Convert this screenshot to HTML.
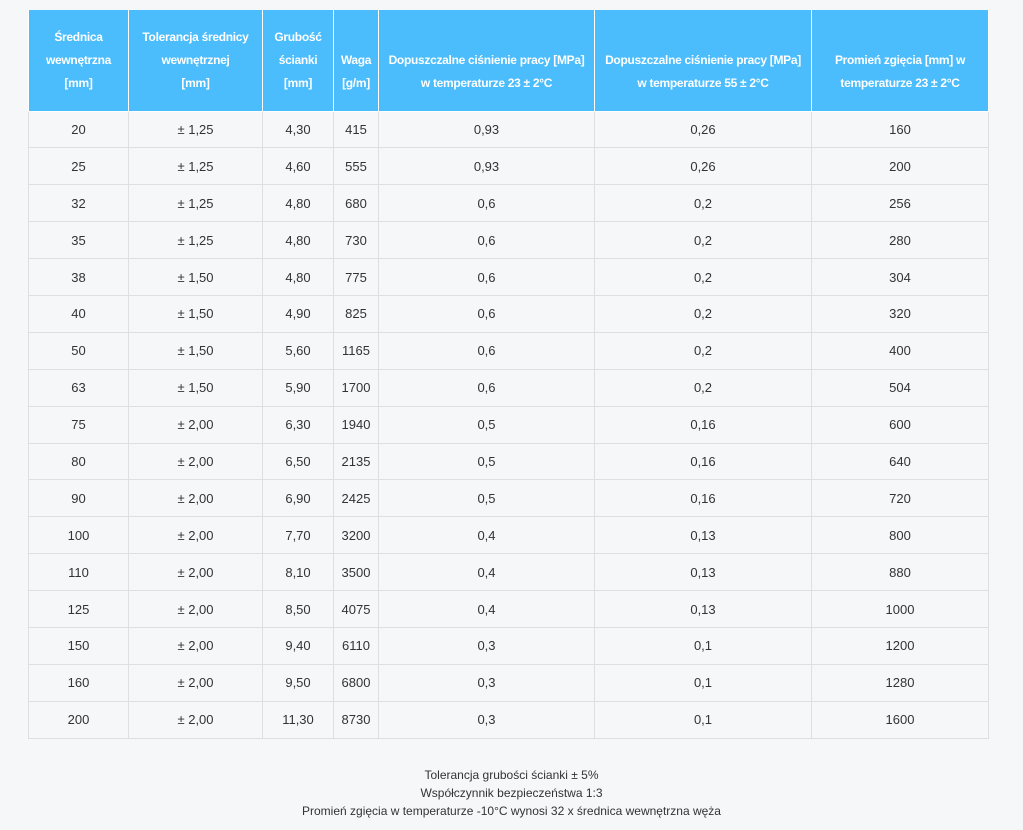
<!DOCTYPE html>
<html><head><meta charset="utf-8"><style>
html,body{margin:0;padding:0;background:#f6f7f9;width:1023px;height:830px;overflow:hidden;font-family:"Liberation Sans",sans-serif;}
table{position:absolute;left:28px;top:10px;border-collapse:collapse;table-layout:fixed;width:960px;}
th{background:#4bbcfc;color:#fff;font-size:12px;letter-spacing:-0.3px;font-weight:bold;line-height:23px;height:101px;padding:0 0 16px 0;border:1px solid #fff;border-top:none;text-align:center;vertical-align:bottom;box-sizing:border-box;white-space:nowrap;overflow:hidden;}
td{height:36.9px;box-sizing:border-box;border:1px solid #dcdfe3;text-align:center;font-size:13px;color:#333;padding:0;}
.notes{position:absolute;top:766px;left:0;width:1023px;text-align:center;font-size:12px;line-height:18px;color:#333;}
</style></head><body>
<table>
<colgroup><col style="width:100px"><col style="width:134px"><col style="width:71px"><col style="width:45px"><col style="width:216px"><col style="width:217px"><col style="width:177px"></colgroup>
<tr><th>Średnica<br>wewnętrzna<br>[mm]</th><th>Tolerancja średnicy<br>wewnętrznej<br>[mm]</th><th>Grubość<br>ścianki<br>[mm]</th><th>Waga<br>[g/m]</th><th>Dopuszczalne ciśnienie pracy [MPa]<br>w temperaturze 23 ± 2°C</th><th>Dopuszczalne ciśnienie pracy [MPa]<br>w temperaturze 55 ± 2°C</th><th>Promień zgięcia [mm] w<br>temperaturze 23 ± 2°C</th></tr>
<tr><td>20</td><td>± 1,25</td><td>4,30</td><td>415</td><td>0,93</td><td>0,26</td><td>160</td></tr>
<tr><td>25</td><td>± 1,25</td><td>4,60</td><td>555</td><td>0,93</td><td>0,26</td><td>200</td></tr>
<tr><td>32</td><td>± 1,25</td><td>4,80</td><td>680</td><td>0,6</td><td>0,2</td><td>256</td></tr>
<tr><td>35</td><td>± 1,25</td><td>4,80</td><td>730</td><td>0,6</td><td>0,2</td><td>280</td></tr>
<tr><td>38</td><td>± 1,50</td><td>4,80</td><td>775</td><td>0,6</td><td>0,2</td><td>304</td></tr>
<tr><td>40</td><td>± 1,50</td><td>4,90</td><td>825</td><td>0,6</td><td>0,2</td><td>320</td></tr>
<tr><td>50</td><td>± 1,50</td><td>5,60</td><td>1165</td><td>0,6</td><td>0,2</td><td>400</td></tr>
<tr><td>63</td><td>± 1,50</td><td>5,90</td><td>1700</td><td>0,6</td><td>0,2</td><td>504</td></tr>
<tr><td>75</td><td>± 2,00</td><td>6,30</td><td>1940</td><td>0,5</td><td>0,16</td><td>600</td></tr>
<tr><td>80</td><td>± 2,00</td><td>6,50</td><td>2135</td><td>0,5</td><td>0,16</td><td>640</td></tr>
<tr><td>90</td><td>± 2,00</td><td>6,90</td><td>2425</td><td>0,5</td><td>0,16</td><td>720</td></tr>
<tr><td>100</td><td>± 2,00</td><td>7,70</td><td>3200</td><td>0,4</td><td>0,13</td><td>800</td></tr>
<tr><td>110</td><td>± 2,00</td><td>8,10</td><td>3500</td><td>0,4</td><td>0,13</td><td>880</td></tr>
<tr><td>125</td><td>± 2,00</td><td>8,50</td><td>4075</td><td>0,4</td><td>0,13</td><td>1000</td></tr>
<tr><td>150</td><td>± 2,00</td><td>9,40</td><td>6110</td><td>0,3</td><td>0,1</td><td>1200</td></tr>
<tr><td>160</td><td>± 2,00</td><td>9,50</td><td>6800</td><td>0,3</td><td>0,1</td><td>1280</td></tr>
<tr><td>200</td><td>± 2,00</td><td>11,30</td><td>8730</td><td>0,3</td><td>0,1</td><td>1600</td></tr>
</table>
<div class="notes">Tolerancja grubości ścianki ± 5%<br>Współczynnik bezpieczeństwa 1:3<br>Promień zgięcia w temperaturze -10°C wynosi 32 x średnica wewnętrzna węża</div>
</body></html>
